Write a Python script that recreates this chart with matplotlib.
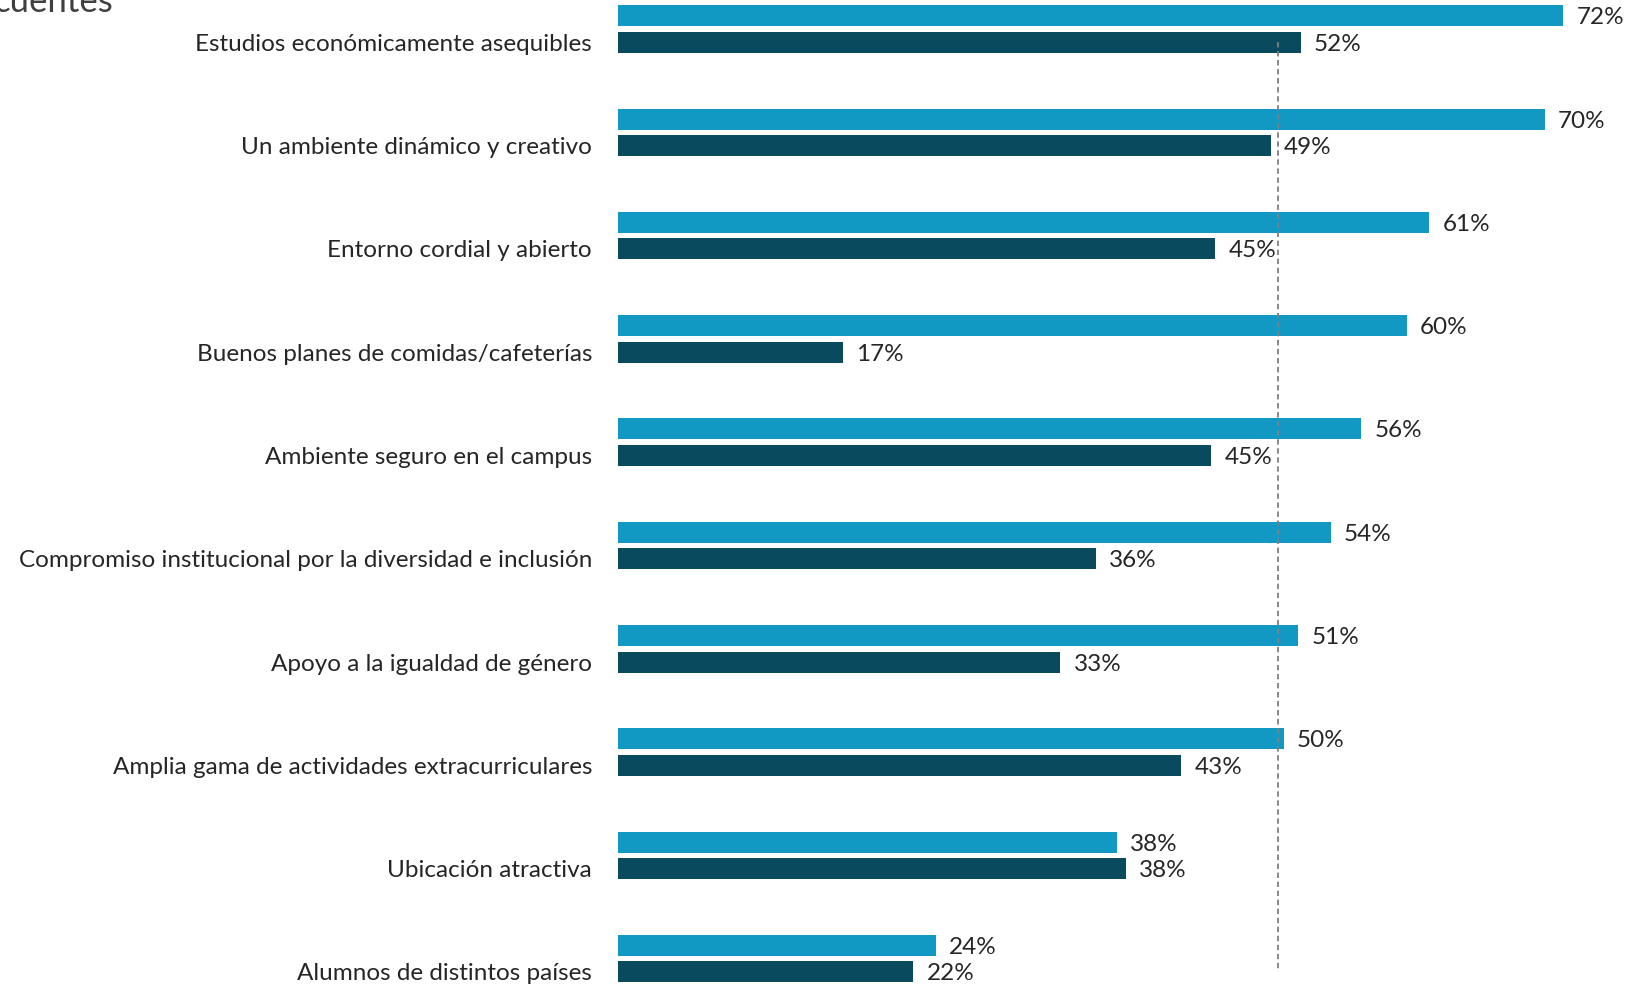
import numpy as np
import matplotlib
matplotlib.use("Agg")
from matplotlib import pyplot as plt

plt.rcParams['font.family'] = ['Lato', 'DejaVu Sans']

categories = [
    "Estudios económicamente asequibles",
    "Un ambiente dinámico y creativo",
    "Entorno cordial y abierto",
    "Buenos planes de comidas/cafeterías",
    "Ambiente seguro en el campus",
    "Compromiso institucional por la diversidad e inclusión",
    "Apoyo a la igualdad de género",
    "Amplia gama de actividades extracurriculares",
    "Ubicación atractiva",
    "Alumnos de distintos países",
]
# longitudes
serie_clara = [72.0, 70.6, 61.8, 60.1, 56.6, 54.3, 51.8, 50.7, 38.0, 24.2]
serie_oscura = [52.0, 49.7, 45.5, 17.1, 45.2, 36.4, 33.7, 42.9, 38.7, 22.5]
# etiquetas tal como aparecen
etiq_clara = ["72%", "70%", "61%", "60%", "56%", "54%", "51%", "50%", "38%", "24%"]
etiq_oscura = ["52%", "49%", "45%", "17%", "45%", "36%", "33%", "43%", "38%", "22%"]
referencia = 50.3

color_claro = "#1199c4"
color_oscuro = "#0a4a5f"
texto = "#262626"

fig = plt.figure(figsize=(16.31, 9.85), dpi=100)
ax = fig.add_axes([618 / 1631, 0, 1 - 618 / 1631, 1])

y = np.arange(len(categories))
off = 0.128
h = 0.203
ax.barh(y - off, serie_clara, height=h, color=color_claro)
ax.barh(y + off, serie_oscura, height=h, color=color_oscuro)

for yi, v, t in zip(y, serie_clara, etiq_clara):
    ax.text(v + 1.0, yi - off, t, va="center_baseline", ha="left", fontsize=17.5, color=texto)
for yi, v, t in zip(y, serie_oscura, etiq_oscura):
    ax.text(v + 1.0, yi + off, t, va="center_baseline", ha="left", fontsize=17.5, color=texto)

ax.plot([referencia, referencia], [off, len(categories) - 1 + off], color="#808080",
        linestyle=(0, (3, 2)), linewidth=1.3)

ax.set_xlim(0, (1631 - 618) / 13.13)
ax.set_ylim((985 - 29) / 103.3, -29 / 103.3)
ax.set_yticks(y + off)
ax.set_yticklabels(categories, fontsize=17.5, color=texto)
ax.tick_params(axis="y", length=0, pad=18.7)
ax.set_xticks([])
for s in ax.spines.values():
    s.set_visible(False)

fig.text(-0.004, 1 - 12 / 985, "cuentes", fontsize=25, color="#404040",
         va="baseline", ha="left")

fig.savefig("out.png", dpi=100)
